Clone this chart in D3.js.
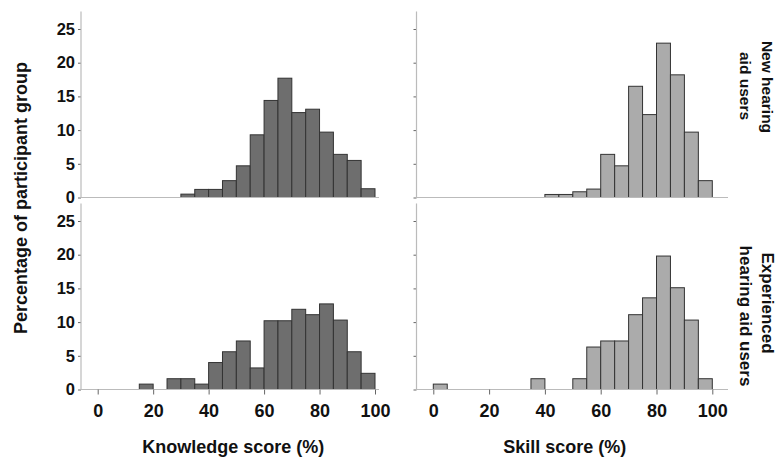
<!DOCTYPE html>
<html>
<head>
<script src="https://d3js.org/d3.v7.min.js"></script>
<style>
  body { margin: 0; background: #fff; }
  svg { font-family: "Liberation Sans", Arial, sans-serif; font-weight: bold; }
</style>
</head>
<body>
<svg width="777" height="460"></svg>
<script>

// histogram bins, 5 points wide, start of each bin
var binStarts = [0, 5, 10, 15, 20, 25, 30, 35, 40, 45, 50, 55, 60, 65, 70, 75, 80, 85, 90, 95];

// percentage of participant group per bin
var knowledgeNew = [0, 0, 0, 0, 0, 0, 0.5, 1.2, 1.2, 2.5, 4.7, 9.3, 14.4, 17.7, 12.6, 13.1, 9.7, 6.4, 5.5, 1.3];
var skillNew     = [0, 0, 0, 0, 0, 0, 0, 0, 0.45, 0.45, 0.85, 1.25, 6.4, 4.7, 16.5, 12.3, 22.9, 18.2, 9.7, 2.5];
var knowledgeExp = [0, 0, 0, 0.8, 0, 1.6, 1.6, 0.8, 4.0, 5.6, 7.2, 3.2, 10.2, 10.2, 11.9, 11.1, 12.7, 10.3, 5.6, 2.4];
var skillExp     = [0.8, 0, 0, 0, 0, 0, 0, 1.6, 0, 0, 1.6, 6.3, 7.2, 7.2, 11.1, 13.6, 19.8, 15.1, 10.3, 1.6];

var yTicks = [0, 5, 10, 15, 20, 25];
var xTicks = [0, 20, 40, 60, 80, 100];
var xTitles = ["Knowledge score (%)", "Skill score (%)"];
var yTitle = "Percentage of participant group";
var rowLabels = [["New hearing", "aid users"], ["Experienced", "hearing aid users"]];

var svg = d3.select("svg");
var binWidth = 5;

// scales for each column / row
var xLeft = d3.scaleLinear().domain([0, 100]).range([97.7, 375]);
var xRight = d3.scaleLinear().domain([0, 100]).range([433.3, 712.3]);
var yTop = d3.scaleLinear().domain([0, 25]).range([197.5, 29]);
var yBottom = d3.scaleLinear().domain([0, 25]).range([389.5, 221]);

var panels = [
  { data: knowledgeNew, x: xLeft, y: yTop, axisX: 81, endX: 379, fill: "#6e6e6e", labels: true, bottom: false },
  { data: skillNew, x: xRight, y: yTop, axisX: 416.5, endX: 728, fill: "#ababab", labels: false, bottom: false },
  { data: knowledgeExp, x: xLeft, y: yBottom, axisX: 81, endX: 379, fill: "#6e6e6e", labels: true, bottom: true },
  { data: skillExp, x: xRight, y: yBottom, axisX: 416.5, endX: 728, fill: "#ababab", labels: false, bottom: true }
];

panels.forEach(function (p) {
  var g = svg.append("g");
  var y0 = p.y(0);

  // bars
  g.selectAll("rect")
    .data(binStarts.map(function (b, i) { return [b, p.data[i]]; }).filter(function (d) { return d[1] > 0; }))
    .enter().append("rect")
    .attr("x", function (d) { return p.x(d[0]); })
    .attr("y", function (d) { return p.y(d[1]); })
    .attr("width", function (d) { return p.x(d[0] + binWidth) - p.x(d[0]); })
    .attr("height", function (d) { return y0 - p.y(d[1]); })
    .style("fill", p.fill)
    .style("stroke", "#333")
    .style("stroke-width", 1);

  // y axis
  var ya = g.append("g")
    .attr("transform", "translate(" + p.axisX + ",0)")
    .call(d3.axisLeft(p.y).tickValues(yTicks).tickSize(3).tickPadding(3)
      .tickFormat(p.labels ? d3.format("d") : ""));
  ya.select(".domain").remove();
  ya.selectAll("line").style("stroke", "#666");
  ya.selectAll("text").style("font-size", "16.5px").style("font-family", "Liberation Sans, Arial")
    .style("font-weight", "bold").style("fill", "#111");

  g.append("line")
    .attr("x1", p.axisX).attr("x2", p.axisX)
    .attr("y1", p.y(27.6)).attr("y2", y0 + 0.5)
    .style("stroke", "#bbb").style("stroke-width", 1.2);

  // baseline
  g.append("line")
    .attr("x1", p.axisX).attr("x2", p.endX)
    .attr("y1", y0).attr("y2", y0)
    .style("stroke", "#bbb").style("stroke-width", 1.2);

  if (p.bottom) {
    var xa = g.append("g")
      .attr("transform", "translate(0," + y0 + ")")
      .call(d3.axisBottom(p.x).tickValues(xTicks).tickSize(5).tickPadding(10));
    xa.select(".domain").remove();
    xa.selectAll("line").style("stroke", "#666");
    xa.selectAll("text").style("font-size", "18px").style("font-family", "Liberation Sans, Arial")
      .style("font-weight", "bold").style("fill", "#111");
  }
});

// axis titles
svg.selectAll(".xtitle").data(xTitles).enter().append("text")
  .attr("class", "xtitle")
  .attr("x", function (d, i) { return i === 0 ? xLeft(50) - 3 : xRight(50) - 8; })
  .attr("y", 453)
  .attr("text-anchor", "middle")
  .style("font-size", "18px")
  .style("fill", "#111")
  .text(function (d) { return d; });

svg.append("text")
  .attr("text-anchor", "middle")
  .attr("transform", "translate(27,198)rotate(-90)")
  .style("font-size", "18px")
  .style("fill", "#111")
  .text(yTitle);

// row labels on the right, rotated clockwise
var rowCenters = [[87, 86], [303, 316]];
var rowSizes = ["15.5px", "17px"];
rowLabels.forEach(function (lines, r) {
  lines.forEach(function (t, k) {
    svg.append("text")
      .attr("text-anchor", "middle")
      .attr("transform", "translate(" + (762 - k * 22) + "," + rowCenters[r][k] + ")rotate(90)")
      .style("font-size", rowSizes[r])
      .style("fill", "#111")
      .text(t);
  });
});

</script>
</body>
</html>
